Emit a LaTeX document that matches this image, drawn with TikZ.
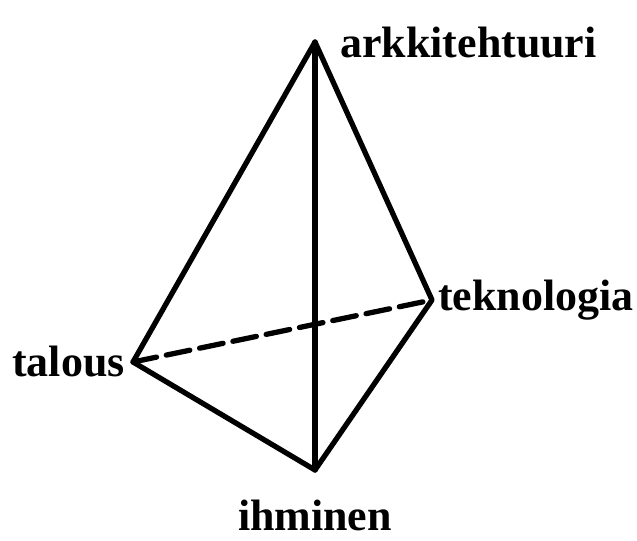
\documentclass[tikz,border=0pt]{standalone}
\usepackage{fontspec}
\setmainfont{Liberation Serif}
\usetikzlibrary{positioning}

\tikzset{
  edge/.style={line width=3pt, line cap=round, line join=round},
  hidden/.style={edge, dash pattern=on 0.48cm off 0.2cm},
  vlabel/.style={inner sep=0pt, font=\fontsize{25}{29}\selectfont\bfseries},
}

\begin{document}
\begin{tikzpicture}
  \useasboundingbox (0,0) rectangle (12.74,10.8);

  \coordinate (ark) at (6.30,9.96);
  \coordinate (tal) at (2.66,3.56);
  \coordinate (tek) at (8.64,4.80);
  \coordinate (ihm) at (6.30,1.40);

  \node[vlabel, anchor=base west] (arklbl) at (6.80,9.64) {arkkitehtuuri};
  \node[vlabel, anchor=west, right=0.12cm of tek] (teklbl) {teknologia};
  \node[vlabel, anchor=east, left=0.16cm of tal] (tallbl) {talous};
  \node[vlabel, below=0.6cm of ihm] (ihmlbl) {ihminen};

  \draw[edge] (ark) -- (tal) -- (ihm) -- (tek) -- cycle;
  \draw[edge] (ark) -- (ihm);
  \draw[hidden] (tal) -- (tek);
\end{tikzpicture}
\end{document}
